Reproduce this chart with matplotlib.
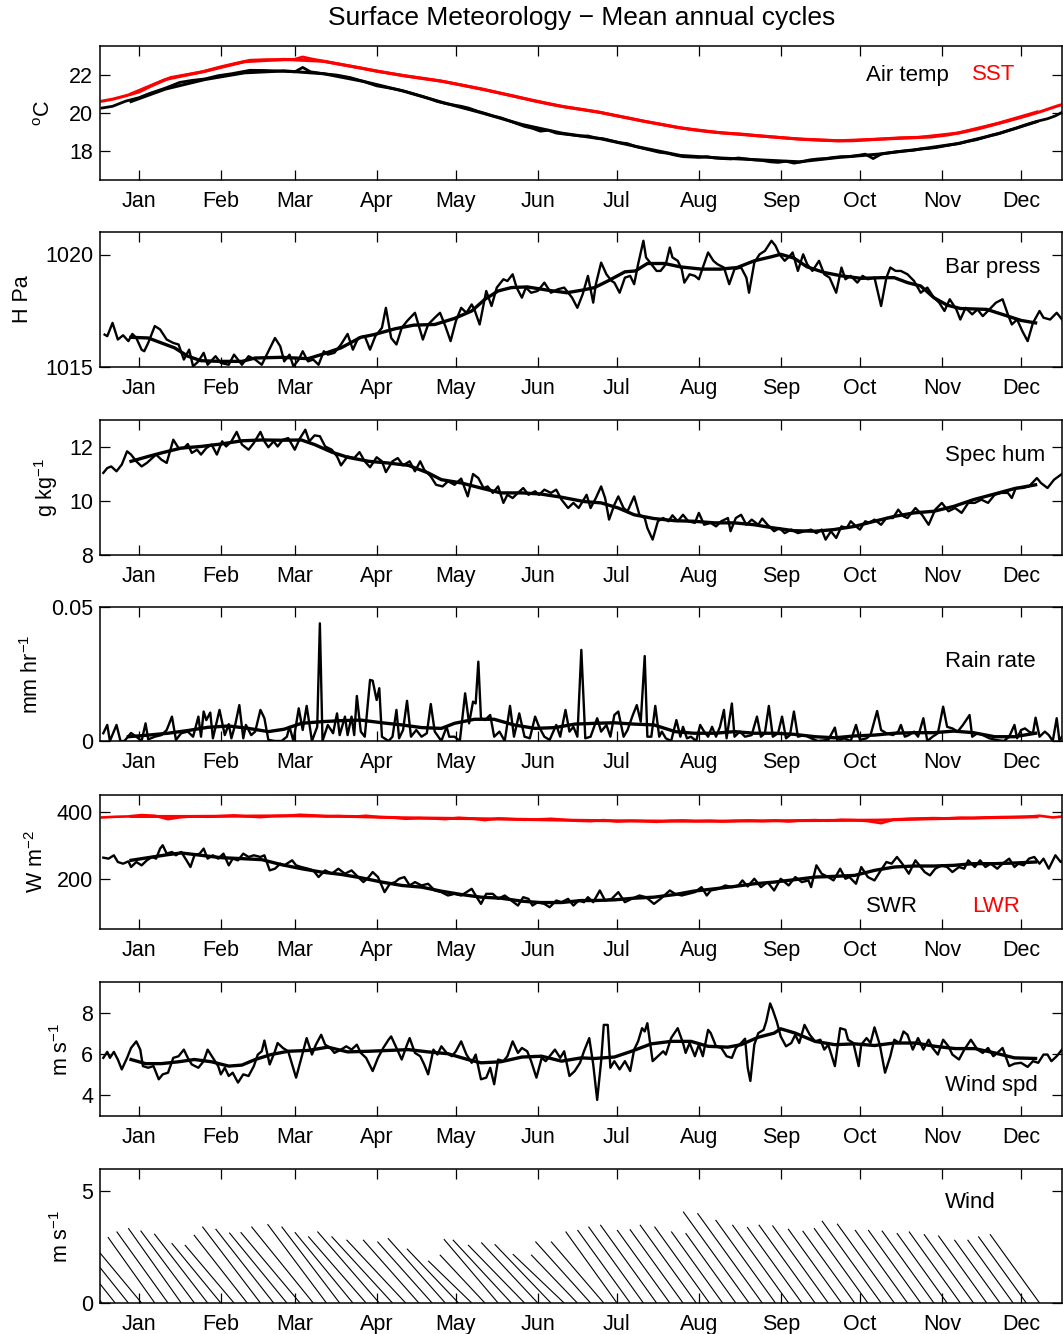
import numpy as np
import matplotlib
matplotlib.use('Agg')
import matplotlib.pyplot as plt
from matplotlib.collections import LineCollection

plt.rcParams['font.family'] = ['Liberation Sans', 'DejaVu Sans']
plt.rcParams['mathtext.fontset'] = 'custom'
plt.rcParams['mathtext.rm'] = 'Liberation Sans'
plt.rcParams['mathtext.default'] = 'regular'

# ---------------- data ----------------
month_days = [0, 31, 59, 90, 120, 151, 181, 212, 243, 273, 304, 334]
month_labels = ['Jan', 'Feb', 'Mar', 'Apr', 'May', 'Jun', 'Jul', 'Aug', 'Sep', 'Oct', 'Nov', 'Dec']

# Air temperature (deg C)
air_days = [-14, -10, -5, 0, 4, 10, 15.5, 20, 25, 30, 35, 42, 48, 55, 59, 62, 65, 70, 75, 80, 85, 90,
            95, 98, 101, 104, 107, 110, 113, 116, 119, 122, 125, 128, 131, 134, 137, 140, 143, 146, 149,
            152, 155, 158, 161, 164, 167, 170, 173, 176, 179, 182, 185, 188, 191, 194, 197, 200, 203, 206,
            209, 212, 215, 218, 221, 224, 227, 230, 233, 236, 239, 242, 245, 248, 251, 254, 257, 260, 263,
            266, 269, 272, 275, 278, 281, 284, 287, 290, 293, 296, 299, 302, 305, 308, 311, 314, 317, 320,
            323, 326, 329, 332, 335, 338, 341, 344, 347, 350]
air_vals = [20.26, 20.35, 20.62, 20.8, 21.02, 21.3, 21.6, 21.7, 21.78, 21.95, 22.05, 22.23, 22.22, 22.18,
            22.15, 22.38, 22.15, 22.05, 21.98, 21.85, 21.65, 21.42, 21.3, 21.22, 21.12, 21.0, 20.88, 20.75,
            20.6, 20.5, 20.42, 20.35, 20.25, 20.1, 19.98, 19.85, 19.75, 19.6, 19.45, 19.3, 19.2, 19.05,
            19.1, 18.95, 18.9, 18.85, 18.8, 18.8, 18.7, 18.65, 18.55, 18.45, 18.4, 18.25, 18.15, 18.05,
            17.95, 17.9, 17.8, 17.72, 17.7, 17.68, 17.72, 17.65, 17.62, 17.6, 17.65, 17.6, 17.55, 17.52,
            17.45, 17.42, 17.48, 17.38, 17.45, 17.55, 17.6, 17.62, 17.68, 17.72, 17.72, 17.78, 17.85,
            17.62, 17.85, 17.92, 17.98, 18.02, 18.05, 18.12, 18.15, 18.2, 18.28, 18.35, 18.42, 18.52,
            18.6, 18.72, 18.85, 18.95, 19.08, 19.2, 19.35, 19.48, 19.6, 19.7, 19.85, 20.07]
air_smooth_days = [-3, 10, 25, 40, 55, 70, 85, 100, 115, 130, 145, 160, 175, 190, 205, 220, 235, 250,
                   265, 280, 295, 310, 325, 340]
air_smooth_vals = [20.6, 21.25, 21.75, 22.1, 22.2, 22.05, 21.65, 21.15, 20.55, 20.0, 19.4, 18.95, 18.65,
                   18.2, 17.78, 17.65, 17.55, 17.45, 17.68, 17.85, 18.1, 18.4, 18.9, 19.55]

# Sea surface temperature (deg C)
sst_days = [-14, -10, -5, 0, 4, 8, 12, 18, 24, 31, 37, 42, 48, 54, 59, 62, 66, 72, 78, 84, 90, 96, 102,
            108, 114, 120, 126, 132, 138, 144, 150, 156, 162, 168, 174, 180, 186, 192, 198, 204, 210, 216,
            222, 228, 234, 240, 246, 252, 258, 264, 270, 276, 282, 288, 294, 300, 306, 312, 318, 324, 330,
            336, 342, 348, 350]
sst_vals = [20.62, 20.72, 20.9, 21.1, 21.37, 21.62, 21.85, 22.0, 22.15, 22.41, 22.6, 22.75, 22.78, 22.78,
            22.8, 22.92, 22.8, 22.65, 22.5, 22.35, 22.18, 22.05, 21.92, 21.8, 21.68, 21.52, 21.35, 21.18,
            21.0, 20.82, 20.62, 20.45, 20.3, 20.18, 20.05, 19.88, 19.72, 19.55, 19.4, 19.25, 19.12, 19.02,
            18.95, 18.9, 18.82, 18.75, 18.68, 18.62, 18.58, 18.55, 18.55, 18.6, 18.65, 18.7, 18.72, 18.75,
            18.85, 19.0, 19.18, 19.4, 19.62, 19.85, 20.1, 20.38, 20.45]
sst_smooth_days = [-3, 10, 25, 40, 55, 70, 85, 100, 115, 130, 145, 160, 175, 190, 205, 220, 235, 250,
                   265, 280, 295, 310, 325, 340]
sst_smooth_vals = [21.0, 21.75, 22.18, 22.68, 22.8, 22.7, 22.32, 21.95, 21.65, 21.25, 20.78, 20.35, 20.02,
                   19.6, 19.22, 18.97, 18.8, 18.64, 18.55, 18.63, 18.72, 18.95, 19.45, 20.05]

# Barometric pressure (hPa)
bp_days = [-13, -12, -10, -8, -6, -4, -2.5, -1, 1, 2, 3.5, 6, 8, 10.5, 13, 15, 17, 19, 20.5, 22.5, 24.5,
           26, 29, 31, 34, 36, 39, 41.5, 44, 46.5, 49, 51.5, 53.5, 55, 57, 58.5, 60.5, 62, 64, 66, 68, 70,
           71.5, 74, 76.5, 79, 81, 83, 85.5, 87.5, 89.5, 92, 93.5, 95.5, 97.5, 99.5, 101.5, 104.5, 107.5,
           109.5, 112, 114, 116, 118, 120, 122, 124, 126, 127, 129, 131.5, 133.5, 135.5, 138, 139.5, 141.5,
           143, 145, 146.5, 148.5, 151, 153.5, 156, 158.5, 161, 164, 166, 168, 170, 172, 173, 175, 177, 179,
           180, 182, 184, 186, 187.5, 189, 191, 192, 194, 196, 197.5, 199.5, 201, 202, 204, 205.5, 206.5,
           208.5, 210.5, 212, 213.5, 215.5, 217.5, 219, 221.5, 223.5, 225.5, 228, 230, 231, 233, 235, 237,
           239.5, 241, 242.5, 244.5, 246.5, 247.5, 249.5, 251.5, 253, 255, 257.5, 259.5, 261.5, 264, 266,
           267.5, 269.5, 272, 274, 276, 278.5, 281, 283, 284.5, 286.5, 288.5, 291, 293.5, 296, 298.5, 301,
           303, 305, 307, 309.5, 311, 313, 315.5, 317.5, 319.5, 322, 324.5, 327, 329, 330.5, 332.5, 334.5,
           336.5, 338.5, 341, 342.5, 345, 347.5, 350]
bp_vals = [1016.44, 1016.37, 1016.96, 1016.22, 1016.41, 1016.15, 1016.47, 1016.29, 1015.77, 1015.70,
           1016.07, 1016.82, 1016.67, 1016.22, 1016.07, 1016.00, 1015.33, 1015.77, 1015.03, 1015.25,
           1015.63, 1015.10, 1015.48, 1015.18, 1015.10, 1015.55, 1015.10, 1015.48, 1015.33, 1015.10,
           1015.70, 1016.29, 1015.92, 1015.25, 1015.55, 1015.03, 1015.33, 1015.70, 1015.25, 1015.33,
           1015.10, 1015.70, 1015.55, 1015.63, 1016.00, 1016.47, 1015.77, 1016.29, 1016.37, 1015.77,
           1016.37, 1016.74, 1017.63, 1016.29, 1016.00, 1016.74, 1017.04, 1017.41, 1016.22, 1016.89,
           1017.19, 1017.41, 1016.82, 1016.15, 1017.04, 1017.63, 1017.41, 1017.78, 1017.56, 1016.89,
           1018.38, 1017.71, 1018.53, 1018.90, 1018.82, 1019.12, 1018.53, 1018.08, 1018.53, 1018.30,
           1018.38, 1018.75, 1018.30, 1018.45, 1018.53, 1018.08, 1017.63, 1018.23, 1019.05, 1017.86,
           1018.68, 1019.64, 1019.12, 1018.82, 1018.75, 1018.30, 1018.97, 1019.05, 1018.68, 1019.57,
           1020.61, 1019.87, 1019.57, 1019.27, 1019.27, 1019.57, 1020.31, 1019.87, 1019.72, 1019.35,
           1018.75, 1019.12, 1019.05, 1018.90, 1019.42, 1020.09, 1019.72, 1019.57, 1019.42, 1018.68,
           1019.35, 1019.42, 1018.97, 1018.30, 1019.64, 1020.01, 1020.16, 1020.61, 1020.39, 1020.01,
           1019.72, 1019.94, 1020.09, 1019.27, 1020.01, 1019.57, 1019.27, 1019.72, 1019.12, 1018.97,
           1018.30, 1019.42, 1018.90, 1019.05, 1018.75, 1019.05, 1018.90, 1018.97, 1017.71, 1018.97,
           1019.42, 1019.27, 1019.27, 1019.12, 1018.82, 1018.30, 1018.53, 1018.08, 1017.86, 1017.49,
           1018.01, 1017.56, 1017.11, 1017.63, 1017.34, 1017.56, 1017.26, 1017.56, 1017.86, 1018.01,
           1017.34, 1016.89, 1017.11, 1016.59, 1016.15, 1016.96, 1017.49, 1017.19, 1017.11, 1017.41,
           1017.04]
bp_smooth_days = [-3, 3.5, 8.5, 13.5, 18.5, 23.5, 31, 39, 44, 54, 64, 69, 76.5, 84, 89, 97, 104, 112,
                  119.5, 126, 131, 136, 141, 147, 155, 162, 168, 172.5, 177.5, 184, 188, 192.5, 199, 205,
                  213, 220, 226.5, 233, 239.5, 243, 248, 253, 259.5, 266, 273.5, 281, 286, 291, 296, 301,
                  306, 311, 321, 329, 334, 339.5]
bp_smooth_vals = [1016.32, 1016.29, 1016.07, 1015.85, 1015.48, 1015.28, 1015.25, 1015.25, 1015.40,
                  1015.43, 1015.37, 1015.55, 1015.85, 1016.32, 1016.44, 1016.70, 1016.86, 1016.89,
                  1017.16, 1017.49, 1018.01, 1018.38, 1018.53, 1018.56, 1018.41, 1018.30, 1018.42,
                  1018.53, 1018.82, 1019.23, 1019.27, 1019.60, 1019.60, 1019.45, 1019.35, 1019.35,
                  1019.42, 1019.72, 1019.90, 1020.01, 1019.84, 1019.45, 1019.20, 1019.05, 1018.94,
                  1018.97, 1018.97, 1018.75, 1018.60, 1018.08, 1017.75, 1017.60, 1017.56, 1017.26,
                  1017.07, 1016.96]

# Specific humidity (g/kg)
sh_days = [-13.5, -12, -10.5, -8.5, -6.5, -4.5, -3, -1, 1, 3, 5, 6.5, 8.5, 10.5, 13, 15, 17, 18.5, 20,
           22, 23.5, 25.5, 27.5, 29.5, 31.5, 33, 35, 37, 39, 41.5, 43.5, 46, 47.5, 49, 51, 52.5, 54.5, 56.5,
           59, 61, 63, 64.5, 66.5, 68.5, 70.5, 73, 75, 76.5, 79, 81.5, 83.5, 85.5, 87.5, 90, 92, 93.5, 96,
           98, 100, 102.5, 104.5, 106.5, 108, 110.5, 112.5, 115, 117, 119.5, 122, 124.5, 126.5, 128.5, 130.5,
           132, 134, 136, 138, 139.5, 141.5, 143.5, 145.5, 147.5, 150, 151.5, 153.5, 156, 158, 160, 162.5,
           164.5, 166.5, 169.5, 171, 173, 175, 176.5, 178, 180, 181.5, 183.5, 185, 187.5, 189.5, 191.5,
           192.5, 194.5, 196.5, 198.5, 200.5, 202, 204, 206, 208, 210.5, 212, 214, 216.5, 218.5, 220.5, 223,
           224, 226, 228, 230, 232, 234.5, 236, 238, 240.5, 242.5, 244.5, 247, 249.5, 252, 254.5, 256.5,
           258.5, 260, 262, 264, 266, 268, 269.5, 271.5, 273, 275, 276.5, 278.5, 281, 283, 285.5, 287.5,
           289.5, 291, 294, 296.5, 299, 301.5, 304, 306.5, 309, 311.5, 314, 316.5, 319, 321.5, 324, 326.5,
           329, 330.5, 332, 334.5, 337, 340, 341.5, 344, 346.5, 350]
sh_vals = [11.04, 11.22, 11.28, 11.10, 11.35, 11.84, 11.72, 11.47, 11.28, 11.41, 11.59, 11.72, 11.53,
           11.41, 12.27, 11.96, 11.96, 12.11, 11.78, 11.90, 11.72, 11.96, 12.09, 11.72, 12.21, 12.02,
           12.21, 12.56, 12.09, 11.90, 12.15, 12.56, 12.21, 11.99, 12.21, 12.02, 12.27, 12.33, 11.90,
           12.33, 12.64, 12.21, 12.43, 12.40, 12.02, 11.90, 11.65, 11.32, 11.65, 11.59, 11.81, 11.47,
           11.25, 11.62, 11.47, 11.07, 11.47, 11.59, 11.32, 11.47, 11.10, 11.47, 11.16, 10.91, 10.60,
           10.54, 10.73, 10.60, 10.83, 10.17, 11.00, 10.85, 10.48, 10.54, 10.30, 10.54, 9.93, 10.23,
           10.11, 10.30, 10.48, 10.23, 10.36, 10.23, 10.42, 10.30, 10.42, 10.05, 9.74, 9.93, 9.74, 10.23,
           9.74, 10.11, 10.54, 10.11, 9.31, 9.86, 10.17, 9.74, 9.62, 10.17, 9.49, 9.37, 9.00, 8.57, 9.25,
           9.37, 9.25, 9.47, 9.25, 9.49, 9.25, 9.19, 9.56, 9.12, 9.19, 9.06, 9.25, 9.37, 8.88, 9.37, 9.49,
           9.12, 9.31, 9.12, 9.35, 9.12, 8.88, 9.00, 8.81, 8.94, 8.81, 8.88, 8.94, 8.81, 8.94, 8.57, 8.88,
           8.63, 9.06, 9.00, 9.25, 9.06, 8.94, 9.25, 9.19, 9.31, 9.12, 9.37, 9.37, 9.68, 9.43, 9.37, 9.74,
           9.49, 9.12, 9.68, 9.93, 9.62, 9.74, 9.56, 9.93, 9.93, 10.05, 9.93, 10.23, 10.30, 10.30, 10.11,
           10.48, 10.48, 10.54, 10.85, 10.67, 10.48, 10.79, 11.04]
sh_smooth_days = [-3, 3.5, 8.5, 16, 23.5, 31, 39, 46.5, 54, 61.5, 66.5, 73, 79, 87, 94, 102, 109.5, 114.5,
                  122, 129.5, 137, 145, 152, 160, 168.5, 175, 181.5, 187.5, 195, 203, 210, 218, 225.5, 233,
                  240.5, 248, 256, 263, 271, 278.5, 286, 293.5, 301, 308.5, 316, 324, 331.5, 339.5]
sh_smooth_vals = [11.47, 11.65, 11.78, 11.96, 12.02, 12.11, 12.23, 12.26, 12.25, 12.26, 12.09, 11.81,
                  11.62, 11.47, 11.41, 11.32, 11.04, 10.79, 10.67, 10.48, 10.30, 10.30, 10.26, 10.14,
                  9.98, 9.93, 9.74, 9.49, 9.35, 9.27, 9.25, 9.19, 9.19, 9.12, 9.00, 8.90, 8.88, 8.94,
                  9.06, 9.25, 9.43, 9.56, 9.62, 9.80, 10.05, 10.26, 10.46, 10.60]

# Rain rate (mm/hr)
rain_days = [-13.5, -12, -11, -8.5, -7, -5.5, -3, -1, 1, 2.5, 3.5, 6, 8.5, 10.5, 12.5, 14, 16, 18.5,
             20.5, 22.5, 23.5, 24.5, 25.5, 27, 28, 30.5, 32.5, 34, 35, 36.5, 38, 39.5, 40.5, 42.5, 44, 46,
             47.5, 49, 51.5, 54, 56, 57, 58.5, 60.5, 62, 63.5, 65.5, 67.5, 68.5, 69.5, 71.5, 73.5, 75, 76,
             78, 79, 80.5, 81.5, 82.5, 84, 85.5, 87.5, 88.5, 90, 91, 92, 94.5, 96, 97.5, 98.5, 100, 101.5,
             103, 105, 107, 109, 110.5, 112, 114.5, 116.5, 117.5, 119.5, 121.5, 123.5, 125, 126.5, 127.5,
             128.5, 129.5, 131, 133, 134.5, 136.5, 138.5, 140.5, 142, 144, 146, 148, 150, 151.5, 153.5,
             155.5, 158, 159.5, 161.5, 163, 164.5, 166, 167.5, 169, 171, 173.5, 175, 177, 178.5, 180, 181.5,
             183.5, 185, 187, 188.5, 190, 191.5, 192.5, 194, 195.5, 197, 198, 199.5, 201.5, 203.5, 205, 206,
             207.5, 209, 211, 212.5, 214, 215.5, 217, 218.5, 220, 221.5, 222.5, 224.5, 225.5, 227.5, 229.5,
             232, 234, 235.5, 237, 238.5, 240, 242, 243.5, 245, 246.5, 248, 249.5, 252, 254.5, 257, 261,
             263.5, 264.5, 267, 269.5, 271.5, 273, 275.5, 277, 279.5, 281, 283, 285.5, 287.5, 288.5, 290,
             291.5, 293.5, 295, 297, 298.5, 300.5, 302.5, 304.5, 306, 308, 310, 312, 314.5, 315.5, 317.5,
             319.5, 322, 324.5, 327.5, 329.5, 331.5, 332.5, 334, 335.5, 337, 338.5, 339.5, 341, 343, 344.5,
             346, 347.5, 348.5, 350]
rain_vals = [0.0029, 0.006, 0.0, 0.006, 0.0, 0.0, 0.003, 0.0016, 0.0, 0.0066, 0.0006, 0.0016, 0.0022,
             0.0041, 0.0091, 0.0004, 0.0029, 0.0035, 0.0016, 0.0091, 0.0016, 0.011, 0.0078, 0.0106, 0.001,
             0.0116, 0.0022, 0.0063, 0.001, 0.0063, 0.0134, 0.001, 0.006, 0.0022, 0.0035, 0.0116, 0.0085,
             0.0004, 0.0, 0.0, 0.0016, 0.0053, 0.0, 0.0122, 0.0041, 0.0131, 0.0, 0.0053, 0.0439, 0.0,
             0.006, 0.0029, 0.0103, 0.0022, 0.0091, 0.0022, 0.0091, 0.0022, 0.0168, 0.0035, 0.0016,
             0.0228, 0.0225, 0.0153, 0.0197, 0.0016, 0.0, 0.0016, 0.0116, 0.001, 0.0041, 0.015, 0.0016,
             0.0041, 0.0016, 0.0029, 0.0138, 0.0035, 0.0, 0.0053, 0.0016, 0.0016, 0.0, 0.0178, 0.0066,
             0.0147, 0.014, 0.0296, 0.0085, 0.0078, 0.0097, 0.0016, 0.0035, 0.0, 0.0131, 0.0016, 0.0103,
             0.0016, 0.001, 0.0091, 0.0053, 0.0016, 0.0004, 0.006, 0.0016, 0.0116, 0.0035, 0.0053, 0.0016,
             0.034, 0.001, 0.0016, 0.0085, 0.0035, 0.006, 0.0016, 0.0097, 0.011, 0.0016, 0.0041, 0.0097,
             0.0134, 0.0072, 0.0317, 0.0016, 0.0016, 0.0131, 0.0016, 0.0035, 0.001, 0.0, 0.0078, 0.0016,
             0.0053, 0.001, 0.0016, 0.0, 0.006, 0.0035, 0.0016, 0.0053, 0.0016, 0.0053, 0.0116, 0.001,
             0.014, 0.0016, 0.0035, 0.0016, 0.0022, 0.0091, 0.0016, 0.0029, 0.0131, 0.0016, 0.0029, 0.0091,
             0.001, 0.0022, 0.011, 0.0016, 0.0022, 0.001, 0.0, 0.0004, 0.005, 0.0, 0.001, 0.0, 0.006,
             0.0004, 0.001, 0.0022, 0.0112, 0.0041, 0.0029, 0.0022, 0.0035, 0.006, 0.0016, 0.0022, 0.0035,
             0.0016, 0.0085, 0.0, 0.0016, 0.0029, 0.0128, 0.0053, 0.0047, 0.0035, 0.006, 0.0097, 0.0016,
             0.0029, 0.0022, 0.001, 0.0004, 0.0, 0.0016, 0.006, 0.001, 0.0041, 0.0047, 0.0035, 0.0029,
             0.0087, 0.0016, 0.0035, 0.0022, 0.0, 0.0085, 0.0004, 0.0022]
rain_smooth_days = [-4, 3.5, 11, 18.5, 26, 34, 41.5, 49, 55, 61.5, 69, 76.5, 84, 92, 99.5, 107, 114.5,
                    119.5, 127, 134.5, 142, 150, 157.5, 165, 172.5, 180, 187.5, 195, 203, 210, 218, 225.5,
                    233, 240.5, 248, 256, 263.5, 271, 278.5, 286, 293.5, 301, 308.5, 316, 324, 331.5, 339.5]
rain_smooth_vals = [0.0016, 0.0022, 0.0029, 0.0039, 0.0051, 0.0056, 0.0047, 0.0035, 0.0044, 0.0066,
                    0.0072, 0.0076, 0.0078, 0.0068, 0.006, 0.005, 0.0047, 0.0066, 0.0081, 0.0081, 0.006,
                    0.0047, 0.005, 0.0063, 0.0066, 0.0068, 0.0063, 0.006, 0.0035, 0.0029, 0.0029, 0.0035,
                    0.0029, 0.0029, 0.0025, 0.0016, 0.0012, 0.0019, 0.0022, 0.0029, 0.0031, 0.0031,
                    0.0037, 0.0031, 0.0016, 0.0016, 0.0029]

# Shortwave radiation (W/m2)
swr_days = [-13.5, -11.5, -9.5, -8, -6, -4, -3, -1, 1, 3, 5, 6.5, 8, 9, 10.5, 12.5, 14, 16, 18, 19.5,
            21, 23, 24.5, 26, 28, 30, 32, 34, 35.5, 37.5, 39.5, 41.5, 43.5, 46, 47.5, 49.5, 51.5, 53.5, 55,
            58, 59.5, 61.5, 64, 66, 68, 70.5, 73, 75.5, 78, 80.5, 83, 85, 87, 88.5, 90.5, 93, 95, 97, 98.5,
            100.5, 102.5, 104.5, 107, 109.5, 112, 114.5, 117, 119.5, 122, 124, 126, 127.5, 129.5, 131.5, 134,
            136, 138.5, 141, 143.5, 145.5, 147.5, 149, 151, 153.5, 155.5, 158, 160, 162.5, 164.5, 166.5,
            168.5, 170, 172, 174.5, 176.5, 179, 181.5, 184, 186.5, 189.5, 192, 195, 197.5, 201, 203, 205.5,
            208, 210.5, 213, 215, 216.5, 219.5, 222, 224.5, 227, 228.5, 230.5, 233, 235.5, 238, 240.5, 243,
            246, 248.5, 251, 253.5, 254.5, 256.5, 258.5, 261, 263, 265.5, 267.5, 269, 271.5, 273.5, 276,
            278.5, 280.5, 283, 285, 287, 289, 291.5, 294, 296, 297.5, 299.5, 301.5, 304, 306, 308, 310.5,
            312.5, 314, 316.5, 318.5, 320.5, 322.5, 325, 327, 329.5, 331.5, 333, 335, 337, 339, 341, 342.5,
            344.5, 347, 349, 350.5]
swr_vals = [263, 260, 270, 250, 245, 252, 235, 250, 240, 255, 265, 260, 290, 300, 275, 280, 270, 280,
            255, 235, 270, 275, 290, 260, 270, 260, 275, 240, 260, 255, 275, 265, 270, 265, 270, 225,
            230, 245, 240, 255, 240, 235, 230, 225, 205, 225, 215, 230, 215, 225, 205, 190, 205, 220, 205,
            160, 185, 190, 200, 205, 180, 190, 180, 185, 165, 160, 150, 155, 150, 160, 170, 150, 125, 155,
            155, 140, 150, 135, 120, 145, 140, 120, 130, 125, 115, 135, 130, 140, 120, 135, 130, 145,
            130, 165, 135, 140, 160, 130, 140, 150, 145, 125, 140, 165, 155, 150, 155, 160, 175, 150, 165,
            170, 180, 175, 180, 195, 177, 200, 175, 190, 165, 200, 180, 205, 190, 195, 175, 240, 215, 205,
            195, 230, 200, 205, 185, 235, 205, 195, 220, 250, 245, 265, 245, 215, 255, 235, 220, 210, 230,
            240, 235, 220, 235, 230, 255, 235, 255, 235, 245, 230, 245, 260, 235, 245, 240, 260, 265, 245,
            260, 230, 270, 250, 260]
swr_smooth_days = [-3, 3.5, 11, 16, 23.5, 31, 39, 46.5, 54, 61.5, 69, 76.5, 84, 92, 99.5, 107, 114.5, 122,
                   129.5, 137, 145, 152, 160, 167.5, 172.5, 180, 187.5, 195, 203, 210, 218, 225.5, 233,
                   240.5, 248, 256, 263, 271, 278.5, 286, 293.5, 301, 308.5, 316, 324, 331.5, 339.5]
swr_smooth_vals = [255, 263, 272, 277, 270, 263, 260, 257, 242, 230, 220, 213, 203, 190, 180, 175, 163,
                   153, 145, 142, 133, 129, 129, 135, 135, 137, 142, 145, 153, 163, 170, 177, 185, 190,
                   197, 205, 207, 210, 225, 235, 238, 238, 240, 245, 245, 247, 250]

# Longwave radiation (W/m2)
lwr_days = [-14, -9, -4, 1, 6, 11, 16, 21, 26, 31, 36, 41, 46, 51, 56, 61, 66, 71, 76, 81, 86, 91, 96,
            101, 106, 111, 116, 121, 126, 131, 136, 141, 146, 151, 156, 161, 166, 171, 176, 181, 186, 191,
            196, 201, 206, 211, 216, 221, 226, 231, 236, 241, 246, 251, 256, 261, 266, 271, 276, 281, 286,
            291, 296, 301, 306, 311, 316, 321, 326, 331, 336, 341, 346, 350]
lwr_vals = [383, 385, 386, 390, 388, 378, 384, 386, 385, 387, 389, 386, 384, 387, 388, 391, 389, 386,
            387, 385, 388, 384, 383, 379, 381, 380, 378, 382, 380, 375, 380, 378, 376, 377, 379, 376,
            373, 372, 375, 371, 373, 372, 370, 373, 374, 372, 373, 371, 373, 374, 372, 374, 371, 374,
            375, 373, 376, 375, 372, 366, 377, 379, 380, 381, 380, 382, 381, 383, 384, 384, 385, 388,
            383, 386]
lwr_smooth_days = [-3, 20, 40, 60, 80, 100, 120, 140, 160, 180, 200, 220, 240, 260, 280, 300, 320, 340]
lwr_smooth_vals = [386, 386, 387, 388, 386, 382, 380, 378, 375, 373, 372, 372, 373, 374, 375, 379, 382, 385]

# Wind speed (m/s)
ws_days = [-13.5, -12, -11, -9.5, -8, -6.5, -4.5, -3, -1, 0.5, 1.5, 3.5, 5.5, 7.5, 9, 11, 13, 15, 17,
           18.5, 20, 22.5, 24.5, 26, 28, 30, 31, 32.5, 34, 35.5, 37.5, 39.5, 41.5, 43.5, 45, 46.5, 47.5,
           49.5, 51.5, 52.5, 54.5, 56.5, 58, 59.5, 61.5, 63.5, 65.5, 67, 69, 70.5, 72.5, 74, 76.5, 78.5,
           80.5, 82.5, 84, 86, 88.5, 90.5, 92.5, 94.5, 95.5, 97.5, 99.5, 101.5, 102.5, 104.5, 106.5, 108,
           109.5, 111.5, 113, 114.5, 116.5, 118.5, 120, 122, 124, 126, 127.5, 129.5, 131.5, 133, 134.5,
           136, 138, 139.5, 141.5, 143.5, 145, 147, 148.5, 150.5, 152.5, 154, 156, 157.5, 159.5, 161, 163,
           165, 167, 168.5, 170.5, 172, 173.5, 175, 176, 177.5, 178.5, 180, 182, 184, 186, 187.5, 189,
           190.5, 191.5, 192.5, 194.5, 196.5, 198.5, 199.5, 201.5, 204, 206, 207, 208.5, 210.5, 212, 213.5,
           215.5, 216.5, 218.5, 220.5, 222.5, 224.5, 226, 228, 229.5, 230.5, 231.5, 233, 234.5, 236.5,
           237.5, 239, 240, 241.5, 243, 245, 247, 248.5, 250, 252, 254, 256, 258, 259.5, 261, 263.5,
           265.5, 267.5, 268.5, 270.5, 272.5, 273.5, 275.5, 277, 278.5, 280.5, 282.5, 284.5, 286, 288,
           289.5, 291, 293, 295, 297, 299, 300.5, 302.5, 304.5, 306.5, 308, 310.5, 312.5, 315, 317.5,
           319.5, 321.5, 323.5, 325, 327, 329.5, 331.5, 334, 336.5, 338.5, 340.5, 342.5, 344, 345.5, 347.5,
           350]
ws_vals = [5.82, 6.11, 5.82, 6.11, 5.74, 5.26, 5.82, 6.30, 6.62, 6.22, 5.42, 5.34, 5.42, 4.78, 5.02,
           5.10, 5.82, 5.90, 6.22, 5.82, 5.50, 5.34, 5.66, 6.22, 5.82, 5.42, 5.02, 5.34, 4.94, 5.10, 4.62,
           5.02, 4.94, 5.42, 5.98, 6.14, 6.66, 5.50, 6.14, 6.54, 6.30, 6.14, 5.50, 4.86, 5.82, 6.78, 5.98,
           6.46, 6.94, 6.46, 6.30, 6.06, 6.22, 6.38, 6.22, 6.46, 6.06, 5.82, 5.18, 5.82, 6.30, 6.70, 6.86,
           6.30, 5.74, 6.46, 6.78, 6.06, 5.90, 5.50, 5.02, 6.22, 5.98, 6.38, 6.06, 5.90, 6.14, 6.62, 5.98,
           5.58, 5.98, 4.78, 4.86, 5.34, 4.54, 5.74, 5.66, 5.90, 6.62, 6.06, 6.30, 6.14, 5.66, 4.86, 5.82,
           5.66, 5.98, 6.22, 5.82, 6.14, 4.94, 5.18, 5.58, 6.14, 6.78, 5.50, 3.78, 5.66, 7.42, 7.42, 5.34,
           5.66, 5.26, 5.66, 5.18, 6.22, 6.62, 7.26, 7.10, 7.50, 5.66, 5.90, 6.14, 5.98, 6.78, 7.26, 6.54,
           6.06, 6.54, 5.90, 6.46, 5.90, 7.18, 7.02, 6.38, 6.30, 5.90, 5.82, 6.30, 6.54, 6.75, 5.34, 4.70,
           6.46, 7.02, 7.18, 7.58, 8.46, 8.14, 7.58, 6.86, 6.38, 6.54, 6.94, 6.54, 7.42, 6.94, 6.62, 6.70,
           6.22, 6.46, 5.42, 7.26, 7.18, 6.70, 6.54, 5.42, 6.46, 6.78, 6.54, 7.30, 6.46, 5.10, 5.90, 6.70,
           6.54, 7.10, 6.94, 6.22, 6.78, 6.22, 6.70, 6.30, 5.98, 6.70, 6.38, 5.98, 5.74, 6.22, 6.70, 6.22,
           6.06, 6.30, 5.90, 6.06, 6.30, 5.42, 5.54, 5.58, 5.38, 5.66, 5.58, 5.98, 5.98, 5.66, 5.90, 6.30]
ws_smooth_days = [-3, 2.5, 8.5, 15, 21, 27.5, 34, 39, 44, 50, 56.5, 64, 71.5, 79, 87, 94.5, 102, 109.5,
                  117, 124.5, 129.5, 137, 145, 152.5, 160, 167.5, 172.5, 180, 186.5, 194, 201.5, 209,
                  215.5, 223, 228, 234.5, 240.5, 243, 248.5, 256, 263.5, 271, 278.5, 286, 294, 301.5, 309,
                  316.5, 324, 331.5, 339.5]
ws_smooth_vals = [5.74, 5.54, 5.54, 5.63, 5.74, 5.63, 5.42, 5.47, 5.74, 5.98, 6.14, 6.18, 6.34, 6.11,
                  6.14, 6.18, 6.22, 6.11, 6.02, 5.74, 5.58, 5.63, 5.86, 5.90, 5.66, 5.82, 5.79, 5.86,
                  6.14, 6.50, 6.62, 6.62, 6.38, 6.34, 6.46, 6.82, 7.02, 7.23, 7.02, 6.62, 6.46, 6.50,
                  6.42, 6.54, 6.54, 6.38, 6.27, 6.27, 6.06, 5.82, 5.79]

# Wind vectors (5-day sticks): time, eastward u, northward v (m/s)
wind_t = [-14, -9, -4, 1, 6, 11, 16, 21, 26, 31, 36, 41, 46, 51, 56, 61, 66, 71, 76, 81, 86, 91, 96, 101,
          106, 111, 116, 121, 126, 131, 136, 141, 146, 151, 156, 161, 166, 171, 176, 181, 186, 191, 196,
          201, 206, 211, 216, 221, 226, 231, 236, 241, 246, 251, 256, 261, 266, 271, 276, 281, 286, 291,
          296, 301, 306, 311, 316, 321, 326, 331, 336, 341]
wind_u = [-2.30, -2.30, -2.40, -2.45, -2.10, -2.30, -2.37, -2.41, -2.39, -2.20, -2.20, -2.39, -2.60, -2.60,
          -2.58, -2.66, -2.77, -2.64, -2.60, -2.60, -2.59, -2.77, -2.73, -2.65, -2.50, -2.45, -2.57, -2.31,
          -1.95, -2.02, -2.43, -2.62, -2.53, -2.53, -2.52, -2.30, -2.07, -2.47, -2.36, -2.30, -2.36, -2.46,
          -2.52, -2.36, -2.38, -2.52, -2.46, -2.30, -2.25, -2.95, -2.90, -2.68, -2.52, -2.45, -2.52, -2.50,
          -2.39, -2.33, -2.41, -2.65, -2.56, -2.35, -2.35, -2.33, -2.25, -2.30, -2.22, -2.17, -2.04, -2.04,
          -2.15, -2.22]
wind_v = [2.90, 2.90, 3.00, 2.95, 2.95, 3.20, 3.35, 3.24, 3.10, 2.68, 2.60, 3.05, 3.42, 3.32, 3.15, 3.17,
          3.42, 3.53, 3.42, 3.17, 2.98, 3.20, 2.98, 2.83, 2.83, 2.75, 2.90, 2.43, 1.89, 2.16, 2.86, 2.83,
          2.60, 2.71, 2.63, 2.19, 2.16, 2.75, 2.75, 3.20, 3.27, 3.42, 3.50, 3.27, 3.30, 3.50, 3.42, 3.20,
          3.13, 4.09, 4.02, 3.72, 3.50, 3.40, 3.50, 3.47, 3.32, 3.23, 3.35, 3.68, 3.55, 3.27, 3.27, 3.24,
          3.13, 3.20, 3.08, 3.02, 2.83, 2.83, 2.98, 3.08]

# ---------------- layout / style ----------------
FIG_W, FIG_H = 1063, 1334
xlim = (-14.75, 349.5)
panel_px = [(46, 180), (232, 367), (420, 555), (607, 741), (795, 929), (982, 1116), (1169, 1303)]
left_px, right_px = 100, 1062
ylims = [(16.5, 23.5), (1015, 1021), (8, 13), (0, 0.05), (50, 450), (3, 9.5), (0, 6)]
yticks = [[18, 20, 22], [1015, 1020], [8, 10, 12], [0, 0.05], [200, 400], [4, 6, 8], [0, 5]]
ytlabels = [['18', '20', '22'], ['1015', '1020'], ['8', '10', '12'], ['0', '0.05'], ['200', '400'],
            ['4', '6', '8'], ['0', '5']]
ylabels = ['$^{o}$C', 'H Pa', 'g kg$^{-1}$', 'mm hr$^{-1}$', 'W m$^{-2}$', 'm s$^{-1}$', 'm s$^{-1}$']
ylabel_x_px = [44, 22, 46, 32, 37, 62, 62]

FS = 15.5
fig = plt.figure(figsize=(FIG_W / 100, FIG_H / 100), dpi=100)
axes = []
for i, (t, b) in enumerate(panel_px):
    ax = fig.add_axes([left_px / FIG_W, 1 - b / FIG_H, (right_px - left_px) / FIG_W, (b - t) / FIG_H])
    ax.set_xlim(*xlim)
    ax.set_ylim(*ylims[i])
    ax.set_xticks(month_days)
    ax.set_xticklabels(month_labels)
    ax.set_yticks(yticks[i])
    ax.set_yticklabels(ytlabels[i])
    ax.tick_params(direction='in', length=7, width=0.9, top=True, right=True, labelsize=FS)
    ax.tick_params(axis='x', pad=8)
    ax.tick_params(axis='y', pad=5)
    for s in ax.spines.values():
        s.set_linewidth(1.1)
    ax.text((ylabel_x_px[i] - left_px) / (right_px - left_px), 0.5, ylabels[i], rotation=90,
            ha='center', va='center', fontsize=FS, transform=ax.transAxes, clip_on=False)
    axes.append(ax)

RED = '#ff0000'
lw_n, lw_s = 1.7, 2.4

ax = axes[0]
ax.plot(sst_days, sst_vals, color=RED, lw=2.2)
ax.plot(sst_smooth_days, sst_smooth_vals, color=RED, lw=2.2)
ax.plot(air_days, air_vals, color='k', lw=2.0)
ax.plot(air_smooth_days, air_smooth_vals, color='k', lw=2.2)

ax = axes[1]
ax.plot(bp_days, bp_vals, color='k', lw=lw_n)
ax.plot(bp_smooth_days, bp_smooth_vals, color='k', lw=lw_s)

ax = axes[2]
ax.plot(sh_days, sh_vals, color='k', lw=lw_n)
ax.plot(sh_smooth_days, sh_smooth_vals, color='k', lw=lw_s)

ax = axes[3]
ax.plot(rain_days, rain_vals, color='k', lw=lw_n)
ax.plot(rain_smooth_days, rain_smooth_vals, color='k', lw=lw_s)

ax = axes[4]
ax.plot(lwr_days, lwr_vals, color=RED, lw=1.9)
ax.plot(lwr_smooth_days, lwr_smooth_vals, color=RED, lw=2.2)
ax.plot(swr_days, swr_vals, color='k', lw=lw_n)
ax.plot(swr_smooth_days, swr_smooth_vals, color='k', lw=lw_s)

ax = axes[5]
ax.plot(ws_days, ws_vals, color='k', lw=lw_n)
ax.plot(ws_smooth_days, ws_smooth_vals, color='k', lw=lw_s)

# stick plot: keep geometric direction (equal pixel scale in x and y)
ax = axes[6]
fig.canvas.draw()
bb = ax.get_window_extent()
days_per_ms = ((xlim[1] - xlim[0]) / bb.width) / ((ylims[6][1] - ylims[6][0]) / bb.height)
segs = [[(t, 0.0), (t + u * days_per_ms, v)] for t, u, v in zip(wind_t, wind_u, wind_v)]
ax.add_collection(LineCollection(segs, colors='k', linewidths=0.8))

# panel labels
def lab(ax, xpx, ypx, t, b, s, c='k'):
    ax.text((xpx - left_px) / (right_px - left_px), (b - ypx) / (b - t), s, color=c, fontsize=FS + 0.5,
            ha='left', va='center', transform=ax.transAxes)

lab(axes[0], 866, 75, *panel_px[0], 'Air temp')
lab(axes[0], 972, 75, *panel_px[0], 'SST', RED)
lab(axes[1], 945, 267, *panel_px[1], 'Bar press')
lab(axes[2], 945, 456, *panel_px[2], 'Spec hum')
lab(axes[3], 945, 662, *panel_px[3], 'Rain rate')
lab(axes[4], 866, 906, *panel_px[4], 'SWR')
lab(axes[4], 972, 906, *panel_px[4], 'LWR', RED)
lab(axes[5], 945, 1086, *panel_px[5], 'Wind spd')
lab(axes[6], 945, 1203, *panel_px[6], 'Wind')

fig.text((left_px + 1063) / 2 / FIG_W, 1 - 18 / FIG_H, 'Surface Meteorology \u2212 Mean annual cycles',
         ha='center', va='center', fontsize=19)

fig.savefig('out.png', dpi=100)
